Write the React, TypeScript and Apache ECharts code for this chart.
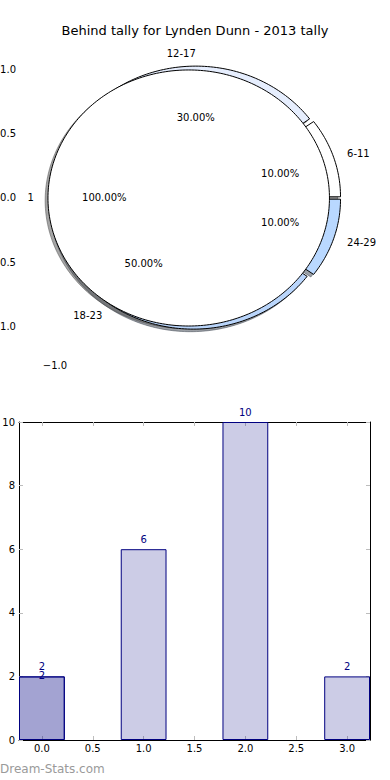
import React, { useEffect, useRef } from 'react';
import * as echarts from 'echarts';

// ---------- data ----------
const TITLE = 'Behind tally for Lynden Dunn - 2013 tally';
const ageGroups = ['6-11', '12-17', '18-23', '24-29'];
const tallyCounts = [2, 6, 10, 2];
const innerLabels = ['1'];
const innerCounts = [20];
const pieYTicks = [-1, -0.5, 0, 0.5, 1];
const pieXTicks = [-1];
const barPositions = [0, 1, 2, 3];
const barValues = [2, 6, 10, 2];
const overlayPositions = [0];
const overlayValues = [2];
const barXTicks = [0, 0.5, 1, 1.5, 2, 2.5, 3];
const barYTicks = [0, 2, 4, 6, 8, 10];
const WATERMARK = 'Dream-Stats.com';

// ---------- style ----------
const FONT = '"DejaVu Sans", Verdana, sans-serif';
const ringColors = ['#ffffff', '#e6eefe', '#b9d5fb', '#b9d8ff'];
const innerColors = ['#ffffff'];
const OUTER_R = 1;
const INNER_R = 1;
const OUTER_EXPLODE = 0.03;
const INNER_EXPLODE = 0.05;
const SHADOW_DX = -0.02;
const SHADOW_DY = -0.02;
const LABEL_DIST = 1.1;
const PCT_DIST = 0.6;
const PIE_X: [number, number] = [-1.2487, 1.2451];
const PIE_Y: [number, number] = [-1.242, 1.234];
const BAR_X: [number, number] = [-0.225, 3.225];
const BAR_Y: [number, number] = [0, 10];
const BAR_WIDTH_UNITS = 0.45;
const TICK_COLOR = '#bdbdbd';

const W = 390;
const H = 780;
const PIE_GRID = { left: 20, top: 40, width: 351, height: 317 };
const BAR_GRID = { left: 19, top: 422, width: 351, height: 318 };

type Wedge = { t1: number; t2: number; mid: number; cx: number; cy: number; r: number; full: boolean; frac: number };

function buildWedges(counts: number[], explode: number, r: number): Wedge[] {
  const total = counts.reduce((a, b) => a + b, 0);
  let acc = 0;
  return counts.map((c) => {
    const t1 = (360 * acc) / total;
    acc += c;
    const t2 = (360 * acc) / total;
    const mid = (((t1 + t2) / 2) * Math.PI) / 180;
    return {
      t1,
      t2,
      mid,
      cx: explode * Math.cos(mid),
      cy: explode * Math.sin(mid),
      r,
      full: t2 - t1 >= 360 - 1e-9,
      frac: c / total,
    };
  });
}

const outerWedges = buildWedges(tallyCounts, OUTER_EXPLODE, OUTER_R);
const innerWedges = buildWedges(innerCounts, INNER_EXPLODE, INNER_R);
const allWedges = [...outerWedges, ...innerWedges];
const allColors = [...ringColors, ...innerColors];
const allLabels = [...ageGroups, ...innerLabels];

function wedgePoints(w: Wedge, api: any, dx = 0, dy = 0) {
  const pts: number[][] = [];
  const n = Math.max(8, Math.ceil((w.t2 - w.t1) / 1.2));
  if (!w.full) pts.push(api.coord([w.cx + dx, w.cy + dy]));
  for (let k = 0; k <= n; k++) {
    const a = ((w.t1 + ((w.t2 - w.t1) * k) / n) * Math.PI) / 180;
    pts.push(api.coord([w.cx + dx + w.r * Math.cos(a), w.cy + dy + w.r * Math.sin(a)]));
  }
  return pts;
}

function shadowColor(hex: string) {
  const v = parseInt(hex.slice(1), 16);
  const r = Math.round(((v >> 16) & 255) * 0.3);
  const g = Math.round(((v >> 8) & 255) * 0.3);
  const b = Math.round((v & 255) * 0.3);
  return `rgba(${r},${g},${b},0.5)`;
}

const fmt1 = (v: number) => {
  const s = Math.abs(v).toFixed(1);
  return v < -1e-9 ? '\u2212' + s : s;
};

export default function App() {
  const ref = useRef<HTMLDivElement>(null);
  useEffect(() => {
    if (!ref.current) return;
    const chart = echarts.init(ref.current, undefined, { renderer: 'svg', width: W, height: H });
    const barPx = (BAR_WIDTH_UNITS * BAR_GRID.width) / (BAR_X[1] - BAR_X[0]);

    const pieAxisX = (pos: 'bottom' | 'top', labels: boolean) => ({
      type: 'value',
      gridIndex: 0,
      position: pos,
      min: PIE_X[0],
      max: PIE_X[1],
      axisLine: { show: false },
      splitLine: { show: false },
      axisTick: { show: true, inside: true, length: 3, customValues: pieXTicks, lineStyle: { color: TICK_COLOR } },
      axisLabel: { show: labels, customValues: pieXTicks, formatter: fmt1, margin: 3, fontSize: 10, fontFamily: FONT, color: '#000' },
    });
    const pieAxisY = (pos: 'left' | 'right', labels: boolean) => ({
      type: 'value',
      gridIndex: 0,
      position: pos,
      min: PIE_Y[0],
      max: PIE_Y[1],
      axisLine: { show: false },
      splitLine: { show: false },
      axisTick: { show: true, inside: true, length: 3, customValues: pieYTicks, lineStyle: { color: TICK_COLOR } },
      axisLabel: { show: labels, customValues: pieYTicks, formatter: fmt1, margin: 4, fontSize: 10, fontFamily: FONT, color: '#000' },
    });
    const barAxisX = (pos: 'bottom' | 'top', labels: boolean) => ({
      type: 'value',
      gridIndex: 1,
      position: pos,
      min: BAR_X[0],
      max: BAR_X[1],
      axisLine: { show: true, onZero: false, lineStyle: { color: '#000', width: 1 } },
      splitLine: { show: false },
      axisTick: { show: true, inside: true, length: 4, customValues: barXTicks, lineStyle: { color: TICK_COLOR } },
      axisLabel: { show: labels, customValues: barXTicks, formatter: fmt1, margin: 3, fontSize: 10, fontFamily: FONT, color: '#000' },
    });
    const barAxisY = (pos: 'left' | 'right', labels: boolean) => ({
      type: 'value',
      gridIndex: 1,
      position: pos,
      min: BAR_Y[0],
      max: BAR_Y[1],
      axisLine: { show: true, onZero: false, lineStyle: { color: '#000', width: 1 } },
      splitLine: { show: false },
      axisTick: { show: true, inside: true, length: 4, customValues: barYTicks, lineStyle: { color: TICK_COLOR } },
      axisLabel: { show: labels, customValues: barYTicks, formatter: (v: number) => String(v), margin: 4, fontSize: 10, fontFamily: FONT, color: '#000' },
    });

    const option: any = {
      animation: false,
      backgroundColor: '#ffffff',
      title: {
        text: TITLE,
        left: 'center',
        top: 24,
        padding: 0,
        textStyle: { fontSize: 13, fontWeight: 'normal', fontFamily: FONT, color: '#000' },
      },
      grid: [
        { ...PIE_GRID, containLabel: false, outerBoundsMode: 'none' },
        { ...BAR_GRID, containLabel: false, outerBoundsMode: 'none' },
      ],
      xAxis: [pieAxisX('bottom', true), pieAxisX('top', false), barAxisX('bottom', true), barAxisX('top', false)],
      yAxis: [pieAxisY('left', true), pieAxisY('right', false), barAxisY('left', true), barAxisY('right', false)],
      graphic: [
        {
          type: 'text',
          left: 0,
          top: 763,
          silent: true,
          style: { text: WATERMARK, fill: '#9a9a9a', font: `12px ${FONT}` },
        },
      ],
      series: [
        {
          name: 'shadows',
          type: 'custom',
          coordinateSystem: 'cartesian2d',
          xAxisIndex: 0,
          yAxisIndex: 0,
          z: 1,
          silent: true,
          data: allWedges.map((w) => [w.cx, w.cy]),
          renderItem: (params: any, api: any) => {
            const w = allWedges[params.dataIndex];
            const c = shadowColor(allColors[params.dataIndex]);
            return {
              type: 'polygon',
              shape: { points: wedgePoints(w, api, SHADOW_DX, SHADOW_DY) },
              style: { fill: c, stroke: c, lineWidth: 1 },
            };
          },
        },
        {
          name: 'outer',
          type: 'custom',
          coordinateSystem: 'cartesian2d',
          xAxisIndex: 0,
          yAxisIndex: 0,
          z: 2,
          silent: true,
          data: outerWedges.map((w) => [w.cx, w.cy]),
          renderItem: (params: any, api: any) => {
            const w = outerWedges[params.dataIndex];
            return {
              type: 'polygon',
              shape: { points: wedgePoints(w, api) },
              style: { fill: ringColors[params.dataIndex], stroke: '#000', lineWidth: 1 },
            };
          },
        },
        {
          name: 'inner',
          type: 'custom',
          coordinateSystem: 'cartesian2d',
          xAxisIndex: 0,
          yAxisIndex: 0,
          z: 3,
          silent: true,
          data: innerWedges.map((w) => [w.cx, w.cy]),
          renderItem: (params: any, api: any) => {
            const w = innerWedges[params.dataIndex];
            return {
              type: 'polygon',
              shape: { points: wedgePoints(w, api) },
              style: { fill: innerColors[params.dataIndex], stroke: '#000', lineWidth: 1 },
            };
          },
        },
        {
          name: 'pieLabels',
          type: 'custom',
          coordinateSystem: 'cartesian2d',
          xAxisIndex: 0,
          yAxisIndex: 0,
          z: 4,
          silent: true,
          data: allWedges.map((w) => [w.cx, w.cy]),
          renderItem: (params: any, api: any) => {
            const w = allWedges[params.dataIndex];
            const lx = w.cx + LABEL_DIST * w.r * Math.cos(w.mid);
            const ly = w.cy + LABEL_DIST * w.r * Math.sin(w.mid);
            const px = w.cx + PCT_DIST * w.r * Math.cos(w.mid);
            const py = w.cy + PCT_DIST * w.r * Math.sin(w.mid);
            const lp = api.coord([lx, ly]);
            const pp = api.coord([px, py]);
            return {
              type: 'group',
              children: [
                {
                  type: 'text',
                  x: lp[0],
                  y: lp[1],
                  style: {
                    text: allLabels[params.dataIndex],
                    fill: '#000',
                    font: `10px ${FONT}`,
                    align: lx > 1e-6 ? 'left' : 'right',
                    verticalAlign: 'middle',
                  },
                },
                {
                  type: 'text',
                  x: pp[0],
                  y: pp[1],
                  style: {
                    text: (w.frac * 100).toFixed(2) + '%',
                    fill: '#000',
                    font: `10px ${FONT}`,
                    align: 'center',
                    verticalAlign: 'middle',
                  },
                },
              ],
            };
          },
        },
        {
          name: 'tally',
          type: 'bar',
          xAxisIndex: 2,
          yAxisIndex: 2,
          barWidth: barPx,
          barGap: '-100%',
          data: barPositions.map((x, i) => [x, barValues[i]]),
          itemStyle: { color: 'rgba(0,0,128,0.2)', borderColor: '#000080', borderWidth: 1 },
          label: { show: true, position: 'top', distance: 5, color: '#000080', fontSize: 10, fontFamily: FONT, formatter: (p: any) => String(p.value[1]) },
          silent: true,
        },
        {
          name: 'overlay',
          type: 'bar',
          xAxisIndex: 2,
          yAxisIndex: 2,
          barWidth: barPx,
          barGap: '-100%',
          data: overlayPositions.map((x, i) => [x, overlayValues[i]]),
          itemStyle: { color: 'rgba(0,0,128,0.2)', borderColor: '#000080', borderWidth: 1 },
          label: { show: true, position: 'top', distance: 5, offset: [0, 9], color: '#000080', fontSize: 10, fontFamily: FONT, formatter: (p: any) => String(p.value[1]) },
          silent: true,
        },
      ],
    };
    chart.setOption(option);
    return () => chart.dispose();
  }, []);

  return <div ref={ref} style={{ position: 'fixed', left: 0, top: 0, width: W, height: H, background: '#fff' }} />;
}
